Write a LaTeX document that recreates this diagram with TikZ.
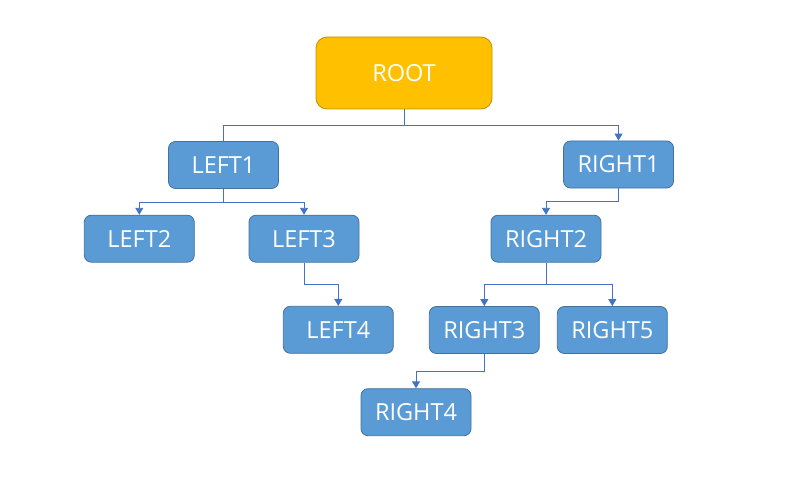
\documentclass[tikz,border=0pt]{standalone}
\usepackage{fontspec}
\setmainfont{Open Sans}
\usetikzlibrary{arrows.meta}
\definecolor{boxfill}{HTML}{5B9BD5}
\definecolor{boxborder}{HTML}{41719C}
\definecolor{rootfill}{HTML}{FFC000}
\definecolor{rootborder}{HTML}{BF9000}
\definecolor{linecol}{HTML}{4472C4}
\begin{document}
\begin{tikzpicture}[x=1pt,y=-1pt,
  box/.style={draw=boxborder, fill=boxfill, rounded corners=7pt, minimum width=110pt, minimum height=47pt, text=white, font=\fontsize{23.5}{27}\selectfont, line width=0.8pt, inner sep=0pt},
  rootbox/.style={box, draw=rootborder, fill=rootfill, minimum width=176pt, minimum height=72pt, rounded corners=11pt},
  conn/.style={draw=linecol, line width=0.9pt},
  arr/.style={conn, -{Triangle[length=7pt,width=8pt]}}]
\useasboundingbox (0,0) rectangle (794,489);
\node[rootbox] (root) at (404,73) {ROOT};
\node[box] (l1) at (223.5,165) {LEFT1};
\node[box] (r1) at (618.5,164.5) {RIGHT1};
\node[box] (l2) at (139.3,238.7) {LEFT2};
\node[box] (l3) at (304,238.7) {LEFT3};
\node[box] (l4) at (338.3,329.8) {LEFT4};
\node[box] (r2) at (546,238.7) {RIGHT2};
\node[box] (r3) at (484.3,330) {RIGHT3};
\node[box] (r5) at (612.3,330) {RIGHT5};
\node[box] (r4) at (416,412.2) {RIGHT4};
\coordinate (j0) at (404,125);
\coordinate (j1) at (223.5,202.3);
\coordinate (j2) at (546,284);
\draw[conn] (root.south) -- (j0) -| (l1.north);
\draw[arr] (j0) -| (r1.north);
\draw[conn] (l1.south) -- (j1);
\draw[arr] (j1) -| (l2.north);
\draw[arr] (j1) -| (l3.north);
\draw[arr] (l3.south) -- ++(0,22.3) -| (l4.north);
\draw[arr] (r1.south) -- ++(0,13.5) -| (r2.north);
\draw[conn] (r2.south) -- (j2);
\draw[arr] (j2) -| (r3.north);
\draw[arr] (j2) -| (r5.north);
\draw[arr] (r3.south) -- ++(0,17.7) -| (r4.north);
\end{tikzpicture}
\end{document}
